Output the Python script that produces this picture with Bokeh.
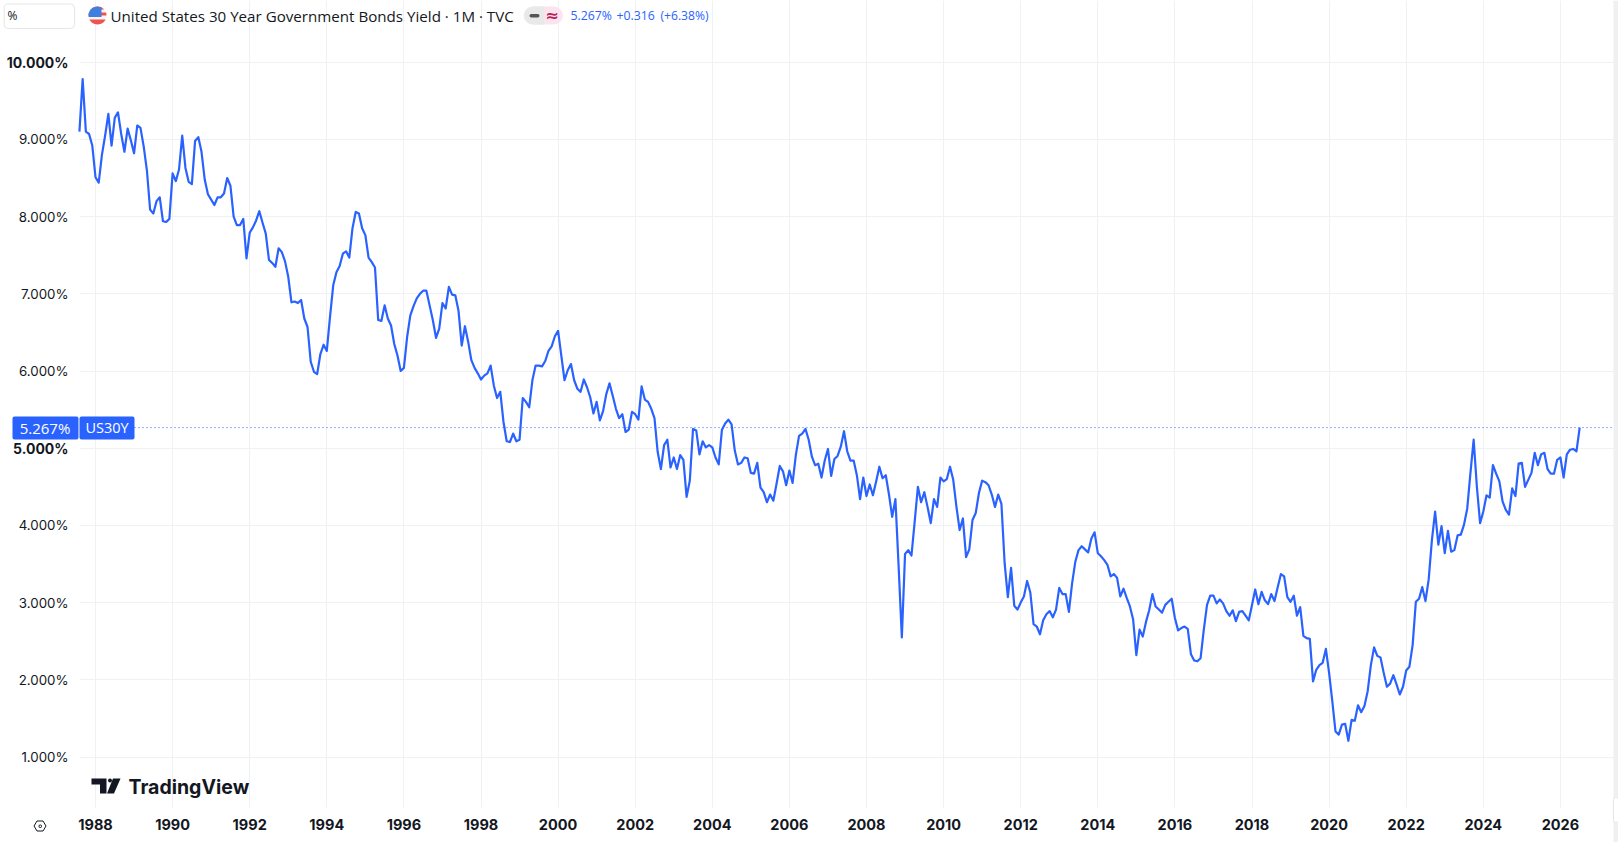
import numpy as np
import pandas as pd
from bokeh.embed import file_html
from bokeh.resources import INLINE
from bokeh.plotting import figure
from bokeh.models import (ColumnDataSource, Range1d, FixedTicker, Label, BoxAnnotation,
                          PolyAnnotation, NumeralTickFormatter)

# Monthly closes (first month: Aug 1987)
yield_1987_1999 = [
    9.10,9.78,9.10,9.07,8.92,8.51,8.44,8.80,9.05,9.33,
    8.92,9.28,9.35,9.07,8.84,9.14,8.99,8.82,9.18,9.15,
    8.91,8.60,8.09,8.04,8.20,8.25,7.94,7.93,7.97,8.56,
    8.46,8.61,9.05,8.63,8.45,8.42,8.98,9.03,8.84,8.48,
    8.29,8.22,8.15,8.25,8.25,8.30,8.50,8.40,8.00,7.89,
    7.89,7.97,7.46,7.79,7.86,7.95,8.07,7.92,7.78,7.44,
    7.40,7.35,7.59,7.54,7.42,7.22,6.89,6.90,6.88,6.92,
    6.68,6.57,6.12,5.99,5.96,6.22,6.34,6.26,6.70,7.11,
    7.28,7.36,7.52,7.55,7.47,7.85,8.06,8.04,7.85,7.76,
    7.47,7.41,7.34,6.66,6.65,6.85,6.68,6.59,6.35,6.20,
    6.00,6.04,6.44,6.72,6.84,6.94,7.00,7.04,7.04,6.85,
    6.66,6.43,6.55,6.88,6.81,7.09,6.99,6.98,6.78,6.33,
    6.58,6.38,6.14,6.04,5.97,5.89,5.94,5.97,6.07,5.81,
    5.65,5.73,5.34,5.09,5.08,5.19,5.09,5.11,5.65,5.60,
    5.53,5.88,6.07,6.07,6.06,6.13,6.26,6.32,6.45,
]
yield_2000_2009 = [
    6.52,6.20,5.88,6.01,6.09,5.88,5.77,5.73,5.89,5.79,5.66,
    5.45,5.60,5.36,5.48,5.70,5.84,5.68,5.51,5.39,5.44,
    5.21,5.24,5.47,5.44,5.37,5.80,5.63,5.60,5.51,5.39,
    4.95,4.73,5.04,5.11,4.75,4.88,4.73,4.91,4.85,4.37,
    4.58,5.25,5.23,4.92,5.09,5.01,5.04,5.01,4.88,4.79,
    5.24,5.32,5.37,5.31,4.97,4.79,4.81,4.88,4.87,4.68,
    4.67,4.81,4.49,4.43,4.30,4.40,4.32,4.54,4.77,4.70,
    4.52,4.71,4.55,4.91,5.16,5.19,5.25,5.11,4.89,4.78,
    4.80,4.62,4.84,4.99,4.64,4.86,4.90,5.02,5.22,4.96,
    4.84,4.84,4.65,4.34,4.62,4.38,4.53,4.39,4.57,4.76,
    4.61,4.65,4.40,4.11,4.34,3.47,2.55,3.63,3.68,3.61,
    4.05,4.50,4.30,4.43,4.24,4.03,4.34,4.24,4.62,
]
yield_2010_2019 = [
    4.57,4.60,4.76,4.59,4.24,3.94,4.09,3.59,3.69,4.07,
    4.16,4.42,4.58,4.56,4.52,4.40,4.24,4.40,4.28,3.51,
    3.07,3.45,2.96,2.91,3.00,3.08,3.28,3.13,2.72,2.69,
    2.59,2.77,2.85,2.89,2.81,2.91,3.19,3.11,3.11,2.88,
    3.25,3.53,3.68,3.73,3.69,3.65,3.83,3.91,3.64,3.60,
    3.55,3.49,3.34,3.37,3.32,3.08,3.18,3.06,2.95,2.78,
    2.32,2.65,2.56,2.75,2.90,3.11,2.95,2.91,2.87,2.97,
    3.01,3.05,2.80,2.64,2.67,2.69,2.66,2.33,2.25,2.24,
    2.28,2.65,2.97,3.09,3.09,2.99,3.04,2.99,2.89,2.83,
    2.90,2.76,2.88,2.89,2.83,2.77,2.97,3.17,2.98,3.14,
    3.03,2.98,3.11,3.02,3.20,3.37,3.34,3.07,3.01,3.09,
    2.83,2.94,2.57,2.54,2.53,1.98,2.13,2.19,2.22,2.40,
]
yield_2020_2026 = [
    2.09,1.72,1.33,1.29,1.42,1.43,1.21,1.48,1.47,1.67,1.58,
    1.66,1.85,2.19,2.42,2.31,2.29,2.09,1.91,1.95,2.06,1.94,
    1.81,1.91,2.12,2.17,2.45,3.01,3.05,3.20,3.02,3.30,3.81,
    4.18,3.75,3.99,3.64,3.93,3.66,3.68,3.87,3.88,4.01,4.22,
    4.68,5.11,4.50,4.03,4.18,4.39,4.36,4.78,4.67,4.57,4.31,
    4.20,4.14,4.48,4.38,4.80,4.81,4.50,4.59,4.68,4.94,4.78,
    4.92,4.94,4.73,4.67,4.67,4.85,4.88,4.62,4.92,4.98,4.99,
    4.96,5.267,
]
yields = yield_1987_1999 + yield_2000_2009 + yield_2010_2019 + yield_2020_2026
year_ticks = list(range(1988, 2028, 2))
price_ticks = [1, 2, 3, 4, 5, 6, 7, 8, 9, 10]
price_labels = ["1.000%", "2.000%", "3.000%", "4.000%", "5.000%", "6.000%", "7.000%", "8.000%", "9.000%", "10.000%"]
bold_prices = [5, 10]
last_price = yields[-1]

BLUE = "#2962FF"
INK = "#131722"
GRID = "#f0f1f3"
SANS = "Inter"
HEAD = "Open Sans"

W, H = 1618, 842
PLOT_L, PLOT_B = 79, 807


def xd(px):
    return 1988 + (px - 95.0) / 38.55


def yd(py):
    return 10 - (py - 61.7) / 77.2


dates = pd.date_range("1987-08-01", periods=len(yields), freq="MS")
src = ColumnDataSource(dict(x=dates.year + (dates.month - 1) / 12, y=yields))

p = figure(width=W, height=H, output_backend="svg", toolbar_location=None,
           x_range=Range1d(xd(0), xd(W)), y_range=Range1d(yd(H), yd(0)),
           min_border_left=0, min_border_right=0, min_border_top=0, min_border_bottom=0)
p.outline_line_color = None
p.background_fill_color = "white"

p.xaxis.ticker = FixedTicker(ticks=year_ticks)
p.xaxis.formatter = NumeralTickFormatter(format="0")
p.xaxis.fixed_location = yd(PLOT_B)
p.yaxis.ticker = FixedTicker(ticks=price_ticks)
p.yaxis.fixed_location = xd(PLOT_L)
p.yaxis.major_label_overrides = {t: ("" if t in bold_prices else s) for t, s in zip(price_ticks, price_labels)}
for ax in (p.xaxis[0], p.yaxis[0]):
    ax.axis_line_color = None
    ax.major_tick_line_color = None
    ax.minor_tick_line_color = None
    ax.major_tick_out = 0
    ax.major_tick_in = 0
    ax.minor_tick_out = 0
    ax.minor_tick_in = 0
    ax.major_label_text_color = INK
    ax.major_label_text_font = SANS
p.xaxis.major_label_standoff = 11
p.xaxis.major_label_text_font_size = "14.5px"
p.xaxis.major_label_text_font_style = "bold"
p.yaxis.major_label_standoff = 11
p.yaxis.major_label_text_font_size = "13.3px"
p.xgrid.grid_line_color = GRID
p.ygrid.grid_line_color = GRID
p.xgrid.ticker = FixedTicker(ticks=year_ticks)
p.ygrid.ticker = FixedTicker(ticks=price_ticks)


def label(px, py, text, size, color=INK, font=HEAD, style="normal", align="left"):
    p.add_layout(Label(x=xd(px), y=yd(py), text=text, text_font_size=f"{size}px", text_color=color,
                       text_font=font, text_font_style=style, text_align=align, text_baseline="middle"))


def box(l, t, r, b, fill, line=None, radius=0, level="annotation"):
    p.add_layout(BoxAnnotation(left=xd(l), right=xd(r), top=yd(t), bottom=yd(b), fill_color=fill, fill_alpha=1,
                               line_color=line, line_alpha=1 if line else 0, border_radius=radius, level=level))


def poly(xs, ys, fill=None, line=None, lw=1):
    p.add_layout(PolyAnnotation(xs=[xd(v) for v in xs], ys=[yd(v) for v in ys],
                                fill_color=fill, fill_alpha=1 if fill else 0,
                                line_color=line, line_alpha=1 if line else 0, line_width=lw))


# white covers limit the grid to the pane
box(0, 0, PLOT_L, H, "white", level="underlay")
box(0, PLOT_B, W, H, "white", level="underlay")

# last-price dotted line and series
p.segment(x0=[xd(134)], x1=[xd(1613)], y0=[last_price], y1=[last_price],
          line_color=BLUE, line_width=1, line_dash="1 3")
p.line("x", "y", source=src, line_color=BLUE, line_width=2.2, line_join="round")

# right-hand strip
box(1613, 0, 1618, H, "#f0f0f0")

# bold round prices
for t, s in zip(price_ticks, price_labels):
    if t in bold_prices:
        p.add_layout(Label(x=xd(68), y=t, text=s, text_font_size="14px", text_color=INK, text_font=SANS,
                           text_font_style="bold", text_align="right", text_baseline="middle"))

# price tags
box(12, 416, 78, 439, BLUE, radius=2)
box(79, 416, 134, 439, BLUE, radius=2)
label(44.5, 427, f"{last_price:.3f}%", 15, "white", HEAD, align="center")
label(106.5, 427, "US30Y", 14.5, "white", HEAD, align="center")

# header
box(3.7, 3.5, 74, 28, "white", "#e6e6e6", radius=4)
label(7, 15, "%", 12, INK, HEAD)
label(110, 15, "United States 30 Year Government Bonds Yield · 1M · TVC", 15.15, INK, HEAD)
box(523.4, 6, 562.4, 24, "#fbe4ec", radius=9)
box(523.4, 6, 543.5, 24, "#e9e9e9", radius=(9, 0, 0, 9))
box(529, 13.5, 539, 17, "#555555", radius=2)
label(551.5, 15, "≈", 16, "#b71c5c", "DejaVu Sans", "bold", "center")
label(570, 15, f"{last_price:.3f}%", 12.3, BLUE, HEAD)
label(616, 15, "+0.316", 12.3, BLUE, HEAD)
label(660, 15, "(+6.38%)", 12.1, BLUE, HEAD)

# flag icon
CX, CY, R = 97, 15, 9


def band(y1, y2, xmax=None):
    ys = np.linspace(y1, y2, 12)
    half = np.sqrt(np.clip(R ** 2 - (ys - CY) ** 2, 0, None))
    right = CX + half
    if xmax is not None:
        right = np.minimum(right, xmax)
    return list(CX - half) + list(right[::-1]), list(ys) + list(ys[::-1])


for y1, y2, fill, xm in [(6, 24, "#f4f4f6", None), (6, 9, "#ef5350", None), (12, 15, "#ef5350", None),
                         (19, 24, "#ef5350", None), (6, 16.5, "#3f7fe0", 101)]:
    bx, by = band(y1, y2, xm)
    poly(bx, by, fill=fill)

# TradingView logo
poly([91, 106, 106, 99.5, 99.5, 96.5, 96.5, 91], [778, 778, 793, 793, 784, 784, 784, 784], fill=INK)
poly([112.5, 120, 113.5, 106.5], [778, 778, 793, 793], fill=INK)
box(107.5, 778, 111.5, 782, INK, radius=2)
label(128, 786, "TradingView", 19.5, INK, SANS, "bold")

# settings icon and scrollbar handle
poly([33.5, 36.5, 42.5, 45.5, 42.5, 36.5], [825.5, 820.5, 820.5, 825.5, 830.5, 830.5], line=INK)
box(38.5, 824.5, 41, 827, None, INK, radius=1)
box(1613, 797, 1618, 822, "white", "#e6e6e6", radius=2)

open("out.html", "w").write(file_html(p, INLINE))
